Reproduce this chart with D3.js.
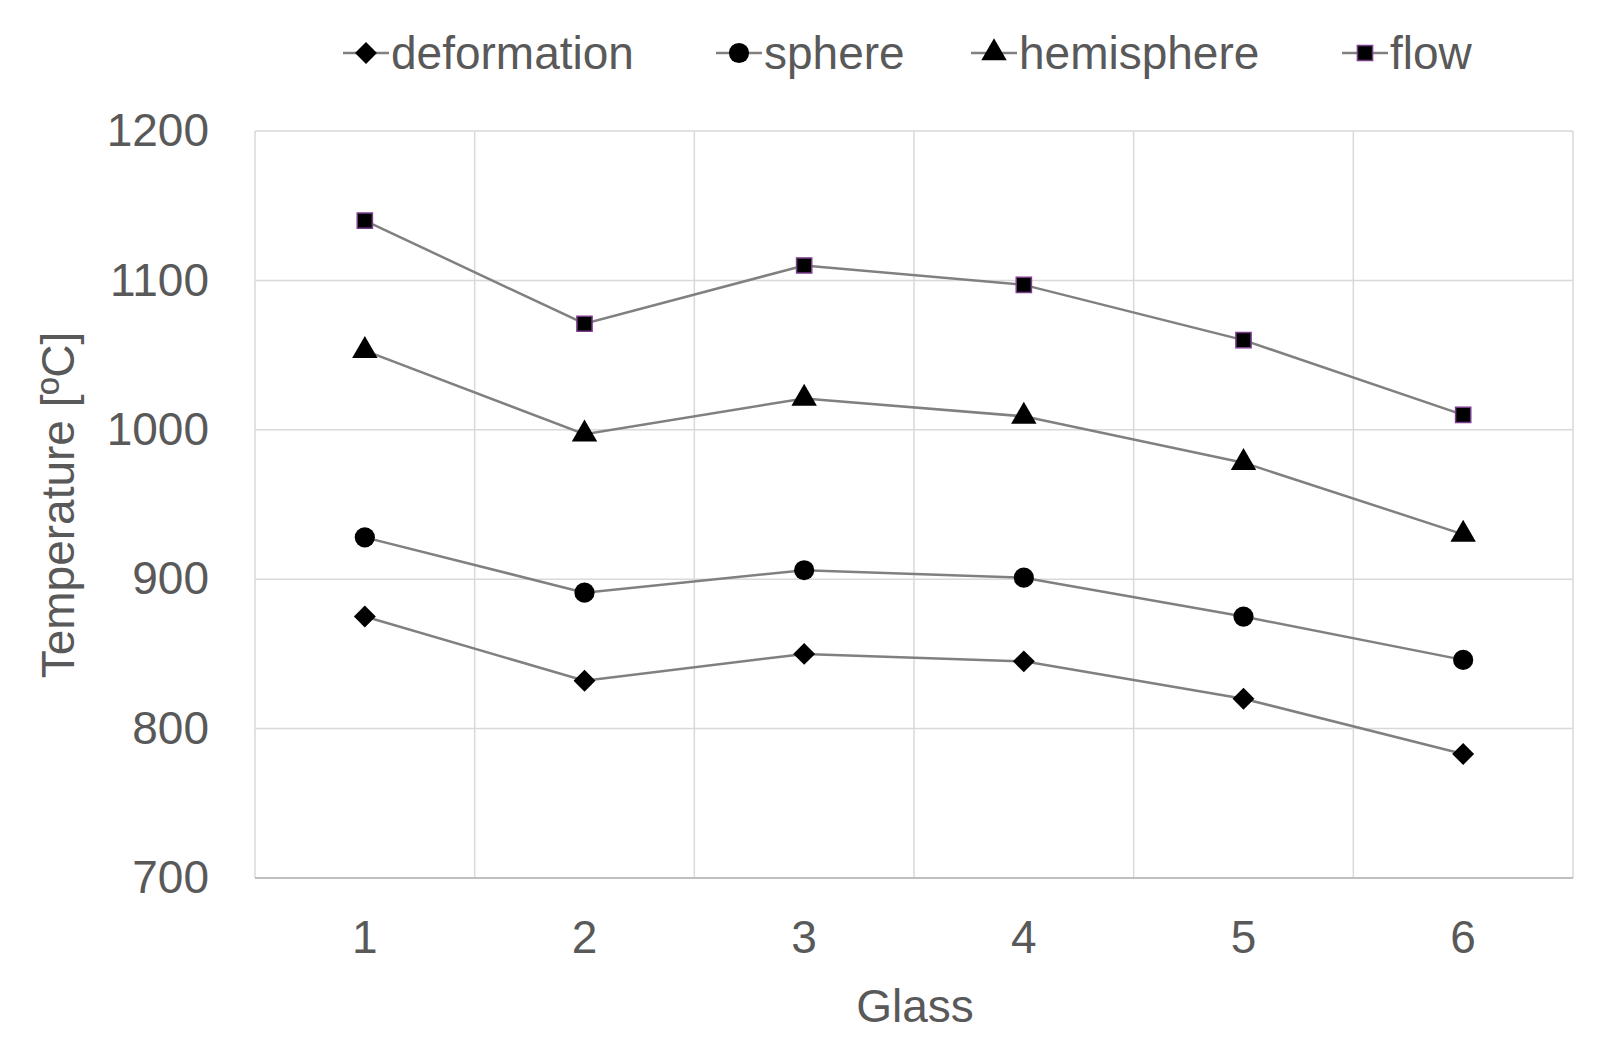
<!DOCTYPE html>
<html><head><meta charset="utf-8">
<script src="https://cdn.jsdelivr.net/npm/d3@7"></script>
<style>body{margin:0;background:#fff}text{font-family:Arial,"Liberation Sans",sans-serif}</style>
</head><body><div id="chart"></div>
<script>
const glass = ["1", "2", "3", "4", "5", "6"];
const deformation = [875, 832, 850, 845, 820, 783];
const sphere = [928, 891, 906, 901, 875, 846];
const hemisphere = [1053, 997, 1021, 1009, 978, 930];
const flow = [1140, 1071, 1110, 1097, 1060, 1010];
const yTicks = [700, 800, 900, 1000, 1100, 1200];

const series = [
  {name: "deformation", values: deformation, symbol: d3.symbolSquare, rot: 45, size: 240, stroke: "none"},
  {name: "sphere", values: sphere, symbol: d3.symbolCircle, size: 320, stroke: "none"},
  {name: "hemisphere", values: hemisphere, symbol: d3.symbolTriangle, size: 280, stroke: "none"},
  {name: "flow", values: flow, symbol: d3.symbolSquare, rot: 0, size: 230, stroke: "#7a3d8c"}
];

const W = 1610, H = 1053;
const m = {left: 255, right: 1573, top: 131, bottom: 878};
const svg = d3.select("#chart").append("svg").attr("width", W).attr("height", H);

const x = d3.scaleBand().domain(glass).range([m.left, m.right]);
const y = d3.scaleLinear().domain([700, 1200]).range([m.bottom, m.top]);

// grid
svg.append("g").selectAll("line").data(yTicks).join("line")
  .attr("x1", m.left).attr("x2", m.right).attr("y1", d => y(d)).attr("y2", d => y(d))
  .attr("stroke", "#d9d9d9").attr("stroke-width", 1.5);
svg.append("g").selectAll("line").data(glass.concat(["end"])).join("line")
  .attr("x1", (d, i) => m.left + i * x.bandwidth()).attr("x2", (d, i) => m.left + i * x.bandwidth())
  .attr("y1", m.top).attr("y2", m.bottom)
  .attr("stroke", "#d9d9d9").attr("stroke-width", 1.5);
svg.append("line").attr("x1", m.left).attr("x2", m.right).attr("y1", m.bottom).attr("y2", m.bottom)
  .attr("stroke", "#bfbfbf").attr("stroke-width", 2);

// axes
const yAxis = svg.append("g").attr("transform", `translate(${m.left},0)`)
  .call(d3.axisLeft(y).tickValues(yTicks).tickFormat(d3.format("d")).tickSize(0).tickPadding(46));
const xAxis = svg.append("g").attr("transform", `translate(0,${m.bottom})`)
  .call(d3.axisBottom(x).tickSize(0).tickPadding(42));
[yAxis, xAxis].forEach(a => {
  a.select(".domain").remove();
  a.selectAll("text").attr("font-size", 46).attr("fill", "#595959");
});

svg.append("text").attr("x", 915).attr("y", 1022).attr("text-anchor", "middle")
  .attr("font-size", 46).attr("fill", "#595959").text("Glass");
svg.append("text").attr("transform", "translate(74,505) rotate(-90)").attr("text-anchor", "middle")
  .attr("font-size", 46).attr("fill", "#595959").text("Temperature [ºC]");

const line = d3.line().x((d, i) => x(glass[i]) + x.bandwidth() / 2).y(d => y(d));
series.forEach(s => {
  svg.append("path").datum(s.values).attr("d", line)
    .attr("fill", "none").attr("stroke", "#808080").attr("stroke-width", 2.5);
  svg.append("g").selectAll("path").data(s.values).join("path")
    .attr("transform", (d, i) => `translate(${x(glass[i]) + x.bandwidth() / 2},${y(d)}) rotate(${s.rot || 0})`)
    .attr("d", d3.symbol(s.symbol, s.size)).attr("fill", "#000")
    .attr("stroke", s.stroke).attr("stroke-width", 1.5);
});

// legend
const legX = [343, 716, 971, 1342];
series.forEach((s, i) => {
  const g = svg.append("g").attr("transform", `translate(${legX[i]},53)`);
  g.append("line").attr("x1", 0).attr("x2", 46).attr("stroke", "#808080").attr("stroke-width", 2.5);
  g.append("path").attr("transform", `translate(23,0) rotate(${s.rot || 0})`).attr("d", d3.symbol(s.symbol, s.size))
    .attr("fill", "#000").attr("stroke", s.stroke).attr("stroke-width", 1.5);
  g.append("text").attr("x", 48).attr("y", 16).attr("font-size", 46).attr("fill", "#595959").text(s.name);
});
</script></body></html>
